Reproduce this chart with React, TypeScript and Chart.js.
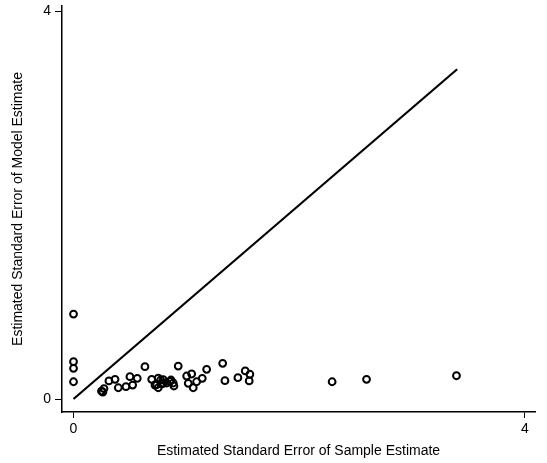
import React, { useEffect, useRef } from "react";
import { Chart, registerables } from "chart.js";

Chart.register(...registerables);

// Estimated standard error of sample estimate (x) and of model estimate (y)
const sampleSE = [
  0, 0, 0, 0,
  0.248, 0.27, 0.26,
  0.314, 0.368, 0.397, 0.465, 0.5, 0.524, 0.565, 0.633, 0.693, 0.722, 0.751, 0.772,
  0.751, 0.795, 0.826, 0.855, 0.884, 0.78, 0.737, 0.864, 0.89, 0.795,
  0.928, 1.003, 1.047, 1.017, 1.061, 1.091, 1.141, 1.18,
  1.322, 1.342, 1.457, 1.522, 1.563, 1.557,
  2.292, 2.597, 3.394,
];
const modelSE = [
  0.876, 0.385, 0.316, 0.178,
  0.082, 0.108, 0.072,
  0.186, 0.203, 0.116, 0.127, 0.23, 0.144, 0.213, 0.333, 0.203, 0.144, 0.116, 0.196,
  0.216, 0.199, 0.165, 0.182, 0.165, 0.155, 0.147, 0.196, 0.134, 0.162,
  0.34, 0.237, 0.258, 0.162, 0.116, 0.178, 0.213, 0.306,
  0.368, 0.189, 0.22, 0.289, 0.255, 0.186,
  0.178, 0.203, 0.24,
];
// Equality reference line
const lineX = [0, 3.4];
const lineY = [0, 3.4];
const tickValues = [0, 4];

const FONT = "'Liberation Sans', Arial, sans-serif";

export default function App() {
  const ref = useRef<HTMLCanvasElement | null>(null);

  useEffect(() => {
    if (!ref.current) return;
    const chart = new Chart(ref.current, {
      type: "scatter",
      data: {
        datasets: [
          {
            type: "line",
            data: lineX.map((x, i) => ({ x, y: lineY[i] })),
            borderColor: "#000",
            borderWidth: 2.2,
            pointRadius: 0,
            fill: false,
          } as any,
          {
            data: sampleSE.map((x, i) => ({ x, y: modelSE[i] })),
            pointStyle: "circle",
            pointRadius: 3.4,
            borderWidth: 2,
            borderColor: "#000",
            backgroundColor: "rgba(255,255,255,0)",
          },
        ],
      },
      options: {
        animation: false,
        responsive: false,
        layout: { padding: { left: 0, right: 12, top: 0, bottom: 0 } },
        plugins: { legend: { display: false }, tooltip: { enabled: false } },
        scales: {
          x: {
            type: "linear",
            min: -0.102,
            max: 4.09,
            afterBuildTicks: (s: any) => {
              s.ticks = tickValues.map((v) => ({ value: v }));
            },
            afterFit: (s: any) => {
              s.height = 51;
              s.paddingLeft = 0;
              s.paddingRight = 0;
            },
            grid: { display: true, drawOnChartArea: false, drawTicks: true, tickLength: 6, color: "#000", lineWidth: 1 },
            border: { display: true, color: "#000", width: 1.5 },
            ticks: { autoSkip: false, maxRotation: 0, padding: 3, color: "#000", font: { family: FONT, size: 14 } },
            title: {
              display: true,
              text: "Estimated Standard Error of Sample Estimate",
              color: "#000",
              font: { family: FONT, size: 14 },
              padding: { top: 0, bottom: 3 },
            },
          },
          y: {
            type: "linear",
            min: -0.134,
            max: 4.052,
            afterBuildTicks: (s: any) => {
              s.ticks = tickValues.map((v) => ({ value: v }));
            },
            afterFit: (s: any) => {
              s.width = 62;
              s.paddingTop = 0;
              s.paddingBottom = 0;
            },
            grid: { display: true, drawOnChartArea: false, drawTicks: true, tickLength: 7, color: "#000", lineWidth: 1 },
            border: { display: true, color: "#000", width: 1.5 },
            ticks: { autoSkip: false, padding: 4, color: "#000", font: { family: FONT, size: 14 } },
            title: {
              display: true,
              text: "Estimated Standard Error of Model Estimate",
              color: "#000",
              font: { family: FONT, size: 14 },
              padding: { top: 10, bottom: 0 },
            },
          },
        },
      },
    });
    return () => chart.destroy();
  }, []);

  return (
    <canvas
      ref={ref}
      width={547}
      height={463}
      style={{ position: "fixed", top: 0, left: 0, display: "block", background: "#fff" }}
    />
  );
}
